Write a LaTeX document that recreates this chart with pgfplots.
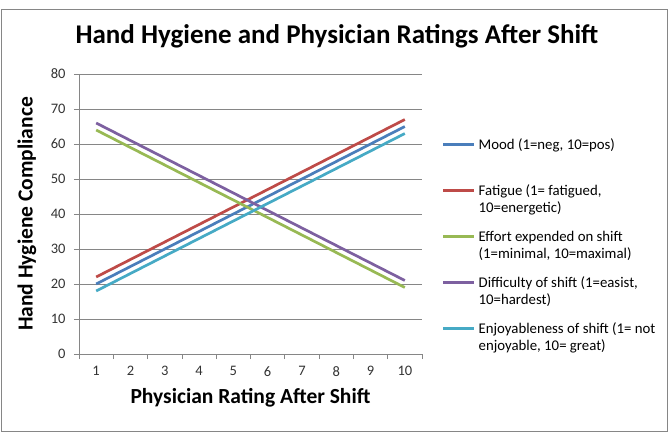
\documentclass[border=0pt]{standalone}
\usepackage{pgfplots}
\pgfplotsset{compat=1.18}
\usepackage{fontspec}
\setmainfont{Carlito}
\definecolor{cMood}{HTML}{4A7EBB}
\definecolor{cFat}{HTML}{BE4B48}
\definecolor{cEff}{HTML}{98B954}
\definecolor{cDif}{HTML}{7D60A0}
\definecolor{cEnj}{HTML}{46AAC5}
\definecolor{gridc}{HTML}{868686}
\newcommand{\legtxt}[2]{\parbox[t]{200pt}{\raggedright\strut #1\strut\\\strut #2\strut\rule[-16.25pt]{0pt}{1pt}}}
\begin{document}
\begin{tikzpicture}[x=1pt,y=1pt]
\path[use as bounding box] (0,0) rectangle (669,440);
\draw[gridc, line width=1pt] (1,9) rectangle (667,430);
\begin{axis}[
  at={(79pt,86pt)}, anchor=south west,
  width=343pt, height=280pt, scale only axis,
  xmin=0.5, xmax=10.5, ymin=0, ymax=80,
  xtick={1,...,10},
  minor xtick={0.5,1.5,...,10.5},
  ytick={0,10,...,80},
  major x tick style={draw=none},
  minor x tick style={draw=gridc, line width=0.8pt},
  y tick style={draw=gridc, line width=0.8pt},
  minor tick length=5pt, major tick length=5pt,
  tick align=outside, tick pos=left,
  axis x line*=bottom, axis y line*=left,
  axis line style={-, draw=gridc, line width=0.8pt},
  ymajorgrids, grid style={draw=gridc, line width=0.8pt},
  /pgf/number format/assume math mode=true,
  ticklabel style={font=\fontsize{14.5}{17}\selectfont, text=black!80},
  yticklabel style={xshift=-5pt},
  xticklabel style={yshift=-4pt},
  title={Hand Hygiene and Physician Ratings After Shift},
  title style={font=\fontsize{27}{32}\selectfont\bfseries, at={(axis description cs:0.752,1.114)}, anchor=center},
  xlabel={Physician Rating After Shift},
  xlabel style={font=\fontsize{21.5}{25}\selectfont\bfseries, at={(axis description cs:0.5,-0.157)}, anchor=center},
  ylabel={Hand Hygiene Compliance},
  ylabel style={font=\fontsize{21.5}{25}\selectfont\bfseries, at={(axis description cs:-0.152,0.5)}, anchor=center, rotate=0},
  legend style={draw=none, fill=none, at={(axis description cs:1.049,0.783)}, anchor=north west,
    font=\fontsize{14.8}{17.5}\selectfont, nodes={inner sep=0pt, text depth=, text height=}, row sep=0pt, column sep=3pt},
  legend cell align=left,
  legend image code/.code={\draw[#1] (0pt,15.5pt) -- (31pt,15.5pt);},
  every axis plot/.append style={line width=2.7pt},
]
\addplot[cMood] coordinates {(1,20)(2,25)(3,30)(4,35)(5,40)(6,45)(7,50)(8,55)(9,60)(10,65)};
\addlegendentry{\legtxt{Mood (1=neg, 10=pos)}{}}
\addplot[cFat] coordinates {(1,22)(2,27)(3,32)(4,37)(5,42)(6,47)(7,52)(8,57)(9,62)(10,67)};
\addlegendentry{\legtxt{Fatigue (1= fatigued,}{10=energetic)}}
\addplot[cEff] coordinates {(1,64)(2,59)(3,54)(4,49)(5,44)(6,39)(7,34)(8,29)(9,24)(10,19)};
\addlegendentry{\legtxt{Effort expended on shift}{(1=minimal, 10=maximal)}}
\addplot[cDif] coordinates {(1,66)(2,61)(3,56)(4,51)(5,46)(6,41)(7,36)(8,31)(9,26)(10,21)};
\addlegendentry{\legtxt{Difficulty of shift (1=easist,}{10=hardest)}}
\addplot[cEnj] coordinates {(1,18)(2,23)(3,28)(4,33)(5,38)(6,43)(7,48)(8,53)(9,58)(10,63)};
\addlegendentry{\legtxt{Enjoyableness of shift (1= not}{enjoyable, 10= great)}}
\end{axis}
\end{tikzpicture}
\end{document}
